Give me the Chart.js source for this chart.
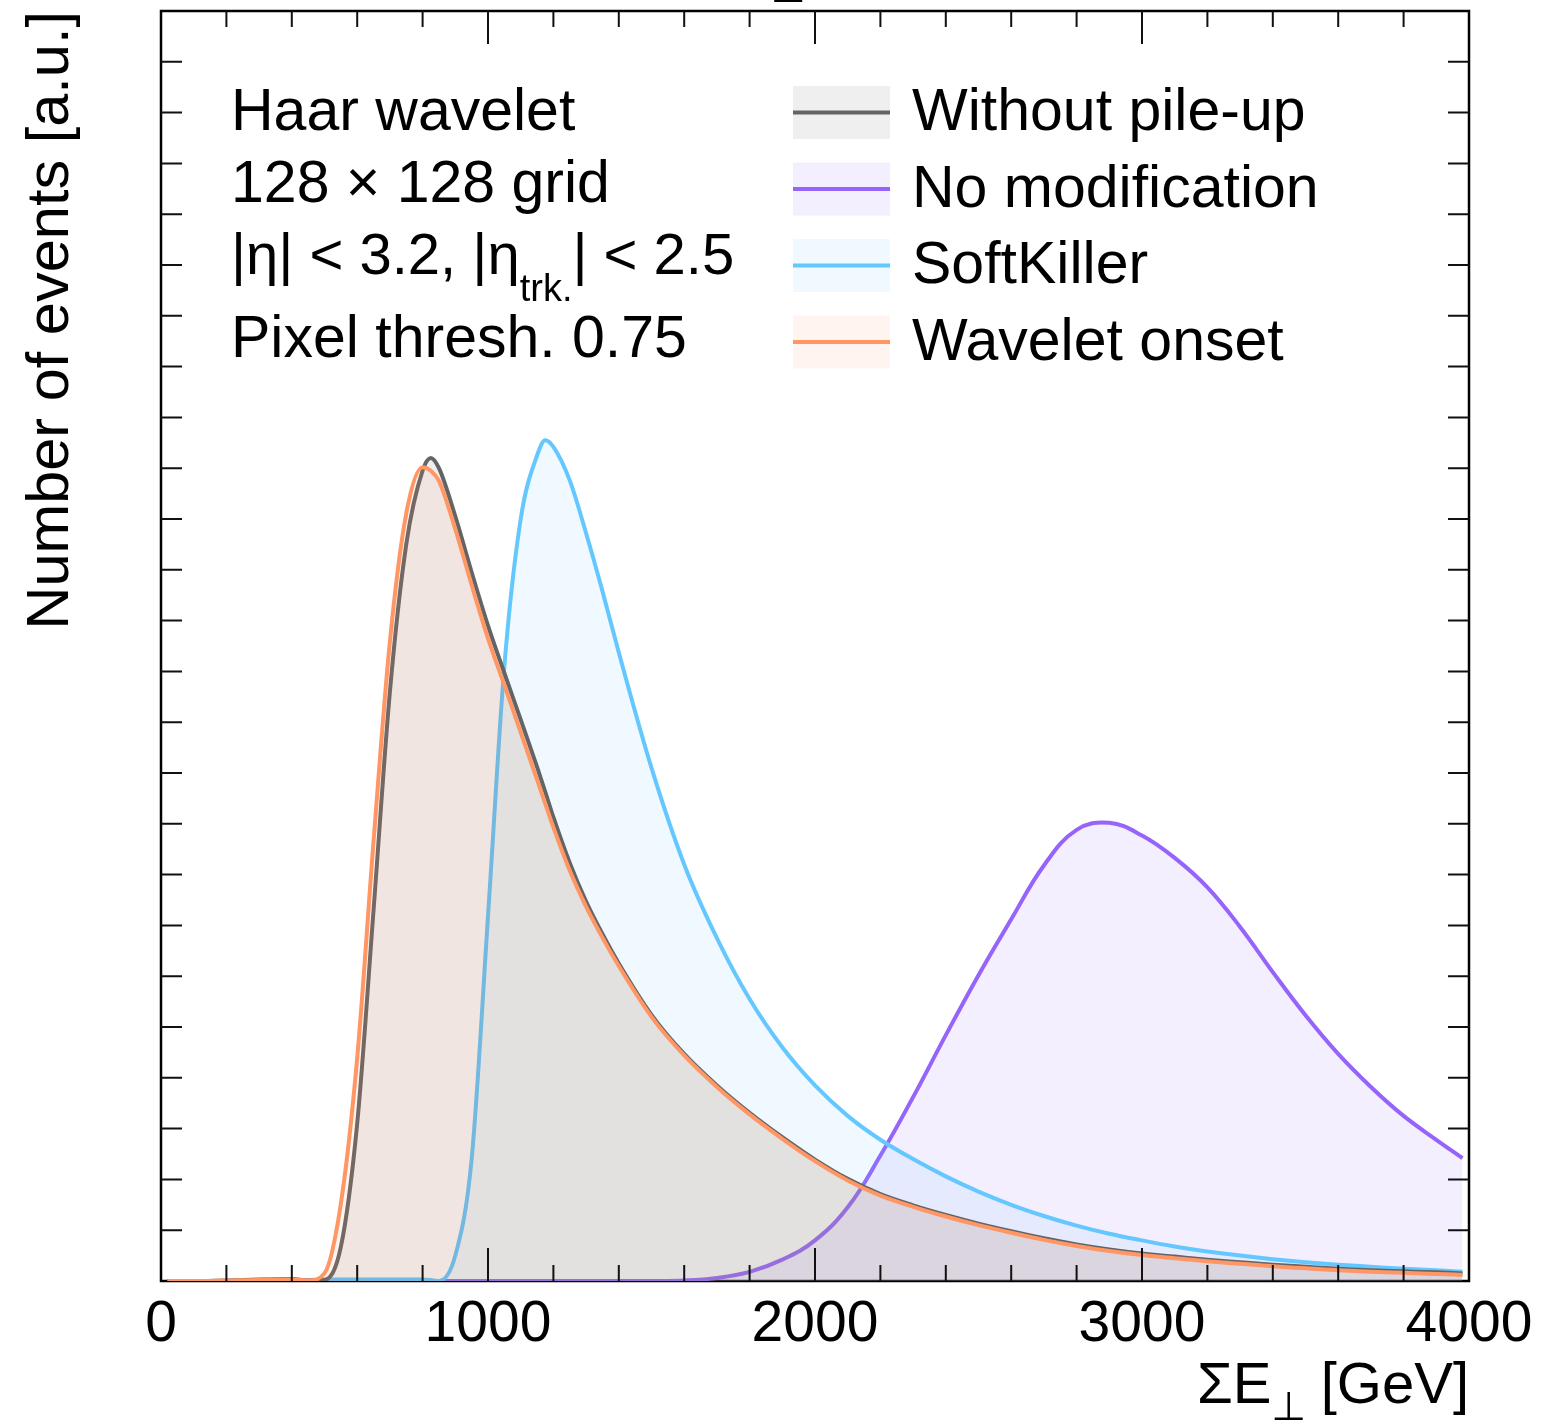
<!DOCTYPE html>
<html>
<head>
<meta charset="utf-8">
<script src="https://cdn.jsdelivr.net/npm/chart.js@4.4.0/dist/chart.umd.min.js"></script>
<style>
  body { margin: 0; background: #fff; }
  #wrap { width: 1545px; height: 1424px; }
</style>
</head>
<body>
<div id="wrap"><canvas id="grafico" width="1545" height="1424"></canvas></div>
<script>
// eixo x: soma de E_T em GeV
const sumEt = [20, 100, 200, 300, 400, 450, 500, 550, 600, 650,
  700, 750, 800, 825, 850, 900, 950, 1000, 1050, 1100,
  1150, 1175, 1200, 1250, 1300, 1350, 1400, 1500, 1600, 1700,
  1800, 1900, 2000, 2100, 2200, 2300, 2400, 2500, 2600, 2700,
  2800, 2900, 3000, 3100, 3200, 3300, 3400, 3500, 3600, 3700,
  3800, 3900, 3980]

const semPileup = [0, 0, 0.01, 0.03, 0.04, 0.01, 0.02, 0.67, 3.1, 7.3,
  11.6, 14.5, 15.95, 16.2, 16.0, 15.05, 13.95, 12.9, 11.97, 11.05,
  10.12, 9.63, 9.13, 8.23, 7.47, 6.83, 6.25, 5.24, 4.47, 3.85,
  3.31, 2.83, 2.39, 2.01, 1.71, 1.49, 1.3, 1.13, 0.98, 0.84,
  0.72, 0.62, 0.54, 0.48, 0.42, 0.37, 0.32, 0.28, 0.24, 0.21,
  0.19, 0.17, 0.15]

const semModificacao = [0, 0, 0, 0, 0, 0, 0, 0, 0, 0,
  0, 0, 0, 0, 0, 0, 0, 0, 0, 0,
  0, 0, 0, 0, 0, 0, 0, 0, 0.01, 0.06,
  0.18, 0.42, 0.8, 1.45, 2.47, 3.62, 4.84, 6.02, 7.12, 8.18,
  8.88, 9.02, 8.77, 8.33, 7.75, 6.97, 6.08, 5.23, 4.47, 3.82,
  3.25, 2.78, 2.42]

const softKiller = [0, 0, 0, 0.01, 0.01, 0.02, 0.03, 0.03, 0.03, 0.03,
  0.03, 0.03, 0.03, 0.02, 0, 0.5, 2.4, 7.18, 12.1, 15.0,
  16.25, 16.55, 16.42, 15.76, 14.72, 13.58, 12.37, 10.1, 8.2, 6.75,
  5.55, 4.6, 3.85, 3.25, 2.78, 2.4, 2.06, 1.76, 1.5, 1.28,
  1.09, 0.93, 0.8, 0.68, 0.58, 0.5, 0.43, 0.37, 0.32, 0.28,
  0.24, 0.21, 0.18]

const waveletOnset = [0, 0, 0.01, 0.02, 0.03, 0.01, 0.15, 1.52, 4.39, 8.66,
  12.59, 15.11, 16.02, 15.95, 15.75, 14.8, 13.7, 12.65, 11.73, 10.8,
  9.87, 9.4, 8.93, 8.08, 7.37, 6.76, 6.2, 5.2, 4.44, 3.82,
  3.28, 2.8, 2.36, 1.98, 1.68, 1.46, 1.27, 1.1, 0.95, 0.81,
  0.69, 0.59, 0.51, 0.45, 0.39, 0.34, 0.29, 0.25, 0.21, 0.18,
  0.16, 0.14, 0.12]

const xTickLabels = [0, 1000, 2000, 3000, 4000]
const nomes = ['Without pile-up', 'No modification', 'SoftKiller', 'Wavelet onset']
const cores = ['100,100,100', '150,100,250', '100,200,255', '255,150,100']
const series = [semPileup, semModificacao, softKiller, waveletOnset]
// ordem de desenho: roxo primeiro, laranja por cima
const ordens = [1, 3, 2, 0]
// o roxo fica mais redondo no pico com a curva bezier normal
const interpolacao = ['monotone', 'default', 'monotone', 'monotone']

const fonte = '"Liberation Sans", Arial, Helvetica, sans-serif'

const desenharTextoComIndice = (ctx, partes, x, y) => {
  // partes: [texto, tamanho, deslocamento vertical]
  partes.forEach(p => {
    ctx.font = `${p[1]}px ${fonte}`
    ctx.fillText(p[0], x, y + p[2])
    x += ctx.measureText(p[0]).width
  })
  return x
}

const moldura = {
  id: 'moldura',
  beforeDatasetsDraw(chart) {
    const { ctx, chartArea: a } = chart
    ctx.save()
    ctx.strokeStyle = '#000'
    ctx.lineWidth = 2.5
    ctx.strokeRect(a.left, a.top, a.right - a.left, a.bottom - a.top)
    ctx.restore()
  },
  afterDatasetsDraw(chart) {
    const { ctx, chartArea: a, scales } = chart
    ctx.save()
    ctx.strokeStyle = '#111'
    ctx.lineWidth = 2
    ctx.beginPath()
    for (let v = 200; v < 4000; v += 200) {
      const px = scales.x.getPixelForValue(v)
      const len = v % 1000 === 0 ? 33 : 16
      ctx.moveTo(px, a.bottom)
      ctx.lineTo(px, a.bottom - len)
      ctx.moveTo(px, a.top)
      ctx.lineTo(px, a.top + len)
    }
    for (let v = 1; v < 25; v++) {
      const py = scales.y.getPixelForValue(v)
      ctx.moveTo(a.left, py)
      ctx.lineTo(a.left + 21, py)
      ctx.moveTo(a.right, py)
      ctx.lineTo(a.right - 21, py)
    }
    ctx.stroke()
    ctx.restore()
  },
  afterDraw(chart) {
    const { ctx, chartArea: a, scales } = chart
    ctx.save()
    ctx.fillStyle = '#000'
    ctx.textBaseline = 'alphabetic'

    // sobra do titulo cortado no topo
    ctx.font = `40px "DejaVu Sans", ${fonte}`
    ctx.textAlign = 'left'
    ctx.fillText('⊥', 771, 2)

    // rotulos do eixo x
    ctx.font = `57px ${fonte}`
    ctx.textAlign = 'center'
    xTickLabels.forEach(v => {
      ctx.fillText(String(v), scales.x.getPixelForValue(v), 1341)
    })

    // titulo do eixo x
    ctx.textAlign = 'right'
    ctx.font = `58px ${fonte}`
    ctx.fillText('[GeV]', a.right, 1403)
    ctx.textAlign = 'left'
    let x = desenharTextoComIndice(ctx, [['ΣE', 58, 0]], 1197, 1403)
    ctx.font = `40px "DejaVu Sans", ${fonte}`
    ctx.fillText('⊥', x, 1420)

    // titulo do eixo y
    ctx.save()
    ctx.translate(68, 11)
    ctx.rotate(-Math.PI / 2)
    ctx.textAlign = 'right'
    ctx.font = `59.5px ${fonte}`
    ctx.fillText('Number of events [a.u.]', 0, 0)
    ctx.restore()

    // textos informativos
    ctx.textAlign = 'left'
    ctx.font = `59px ${fonte}`
    ctx.fillText('Haar wavelet', 231, 130)
    ctx.fillText('128 × 128 grid', 231, 202)
    desenharTextoComIndice(ctx, [
      ['|η| < 3.2, |η', 58, 0],
      ['trk.', 38, 27],
      ['| < 2.5', 58, 0]
    ], 231, 274)
    ctx.font = `59px ${fonte}`
    ctx.fillText('Pixel thresh. 0.75', 231, 357)

    // legenda
    nomes.forEach((nome, i) => {
      const topo = 86 + i * 76.5
      ctx.fillStyle = `rgba(${cores[i]},0.1)`
      ctx.fillRect(793, topo, 97, 53)
      ctx.strokeStyle = `rgb(${cores[i]})`
      ctx.lineWidth = 4
      ctx.beginPath()
      ctx.moveTo(793, topo + 26.5)
      ctx.lineTo(890, topo + 26.5)
      ctx.stroke()
      ctx.fillStyle = '#000'
      ctx.font = `59px ${fonte}`
      ctx.fillText(nome, 912, topo + 44)
    })
    ctx.restore()
  }
}

const grafico = new Chart(document.getElementById('grafico'), {
  type: 'line',
  data: {
    datasets: series.map((valores, i) => ({
      label: nomes[i],
      data: sumEt.map((v, j) => ({ x: v, y: valores[j] })),
      borderColor: `rgb(${cores[i]})`,
      backgroundColor: `rgba(${cores[i]},0.1)`,
      borderWidth: 4,
      fill: 'origin',
      pointRadius: 0,
      cubicInterpolationMode: interpolacao[i],
      tension: 0.4,
      order: ordens[i]
    }))
  },
  options: {
    responsive: false,
    devicePixelRatio: 1,
    animation: false,
    layout: { padding: { left: 161, top: 11, right: 76, bottom: 143 } },
    scales: {
      x: { type: 'linear', min: 0, max: 4000, display: false },
      y: { min: 0, max: 25, display: false }
    },
    plugins: {
      legend: { display: false },
      tooltip: { enabled: false }
    }
  },
  plugins: [moldura]
})
</script>
</body>
</html>
